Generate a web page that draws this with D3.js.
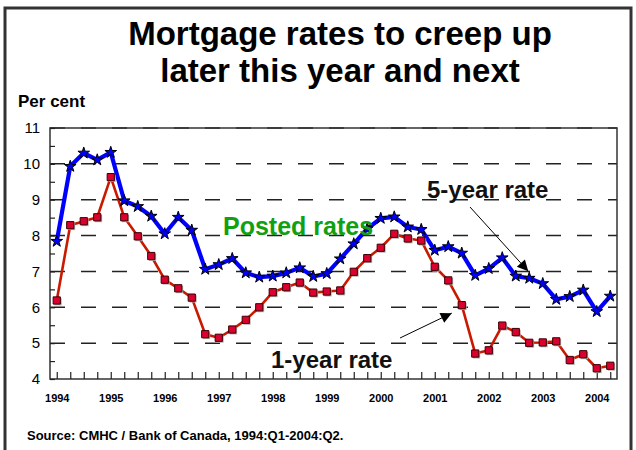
<!DOCTYPE html>
<html>
<head>
<meta charset="utf-8">
<script src="https://cdn.jsdelivr.net/npm/d3@7"></script>
<style>
  body { margin: 0; background: #fff; }
  svg { display: block; font-family: "Liberation Sans", Arial, sans-serif; }
</style>
</head>
<body>
<div class="svg-container"></div>
<script>
// quarterly data, 1994:Q1 - 2004:Q2
const yearLabels = ["1994","1995","1996","1997","1998","1999","2000","2001","2002","2003","2004"];
const fiveYear = [7.84, 9.93, 10.30, 10.11, 10.32, 8.97, 8.81, 8.54, 8.05, 8.51, 8.15, 7.06,
                  7.19, 7.36, 6.96, 6.84, 6.87, 6.96, 7.10, 6.86, 6.94, 7.35, 7.77, 8.19,
                  8.48, 8.52, 8.24, 8.17, 7.59, 7.69, 7.51, 6.89, 7.08, 7.38, 6.87, 6.81,
                  6.66, 6.22, 6.30, 6.48, 5.88, 6.31];
const oneYear = [6.19, 8.29, 8.40, 8.51, 9.63, 8.51, 7.98, 7.43, 6.77, 6.53, 6.27, 5.25,
                 5.15, 5.38, 5.65, 6.00, 6.42, 6.56, 6.69, 6.41, 6.44, 6.47, 6.99, 7.37,
                 7.66, 8.05, 7.92, 7.86, 7.13, 6.75, 6.06, 4.71, 4.80, 5.49, 5.31, 5.01,
                 5.02, 5.05, 4.53, 4.69, 4.30, 4.37];
const yTicks = [4, 5, 6, 7, 8, 9, 10, 11];

var w = 636, h = 450;

const svg = d3.select(".svg-container")
              .append("svg")
              .attr("width", w)
              .attr("height", h);

// outer frame
svg.append("rect")
   .attr("x", 5).attr("y", 8)
   .attr("width", 626).attr("height", 470)
   .attr("fill", "none")
   .attr("stroke", "#333")
   .attr("stroke-width", 3);

// title
const title = svg.append("text")
   .attr("text-anchor", "middle")
   .attr("font-weight", "bold")
   .attr("font-size", 33)
   .attr("fill", "#000");
title.append("tspan").attr("x", 340).attr("y", 45).text("Mortgage rates to creep up");
title.append("tspan").attr("x", 340).attr("y", 82).text("later this year and next");

svg.append("text")
   .attr("x", 18).attr("y", 107)
   .attr("font-weight", "bold")
   .attr("font-size", 17)
   .text("Per cent");

// scales
const xScale = d3.scaleLinear()
                 .domain([-0.5, fiveYear.length - 0.5])
                 .range([50, 617]);
const yScale = d3.scaleLinear()
                 .domain([4, 11])
                 .range([379, 128]);

// dashed gridlines
svg.append("g")
   .selectAll("line")
   .data(yTicks.slice(1))
   .enter()
   .append("line")
   .attr("x1", xScale.range()[0])
   .attr("x2", xScale.range()[1])
   .attr("y1", d => yScale(d))
   .attr("y2", d => yScale(d))
   .attr("stroke", "#222")
   .attr("stroke-width", 1.5)
   .attr("stroke-dasharray", "15,16");

// plot frame
svg.append("rect")
   .attr("x", 50).attr("y", 128)
   .attr("width", 567).attr("height", 251)
   .attr("fill", "none")
   .attr("stroke", "#333")
   .attr("stroke-width", 1.5);

// axes
const xAxis = d3.axisBottom(xScale)
                .tickValues(d3.range(fiveYear.length))
                .tickSize(-7)
                .tickPadding(15)
                .tickFormat(i => i % 4 === 0 ? yearLabels[i / 4] : "");
const yAxis = d3.axisLeft(yScale)
                .tickValues(d3.range(4, 11.01, 0.5))
                .tickSize(-5)
                .tickPadding(10)
                .tickFormat(d => Number.isInteger(d) ? d : "");

const gx = svg.append("g")
   .attr("transform", "translate(0," + 379 + ")")
   .call(xAxis);
gx.select(".domain").remove();
gx.selectAll("line").attr("stroke", "#222").attr("stroke-width", 1.2);
gx.selectAll("text")
  .attr("font-family", "Liberation Sans, Arial, sans-serif")
  .attr("font-weight", "bold")
  .attr("font-size", 11)
  .attr("fill", "#000");

const gy = svg.append("g")
   .attr("transform", "translate(50,0)")
   .call(yAxis);
gy.select(".domain").remove();
gy.selectAll("line").attr("stroke", "#222").attr("stroke-width", 1.2);
gy.selectAll("text")
  .attr("font-family", "Liberation Sans, Arial, sans-serif")
  .attr("font-size", 15)
  .attr("fill", "#000");

// lines
const line = d3.line()
               .x((d, i) => xScale(i))
               .y(d => yScale(d));

svg.append("path")
   .datum(oneYear)
   .attr("d", line)
   .attr("fill", "none")
   .attr("stroke", "#c81a00")
   .attr("stroke-width", 2.6)
   .attr("stroke-linejoin", "round");

svg.append("path")
   .datum(fiveYear)
   .attr("d", line)
   .attr("fill", "none")
   .attr("stroke", "#0000ff")
   .attr("stroke-width", 4.2)
   .attr("stroke-linejoin", "round");

// markers
const square = d3.symbol().type(d3.symbolSquare).size(52);
svg.append("g")
   .selectAll("path")
   .data(oneYear)
   .enter()
   .append("path")
   .attr("d", square)
   .attr("transform", (d, i) => "translate(" + (xScale(i) + 1.3) + "," + (yScale(d) + 1.3) + ")")
   .attr("fill", "#aaa");
svg.append("g")
   .selectAll("path")
   .data(oneYear)
   .enter()
   .append("path")
   .attr("d", square)
   .attr("transform", (d, i) => "translate(" + xScale(i) + "," + yScale(d) + ")")
   .attr("fill", "#dc0030")
   .attr("stroke", "#3a0000")
   .attr("stroke-width", 1);

const star = d3.symbol().type(d3.symbolStar).size(42);
svg.append("g")
   .selectAll("path")
   .data(fiveYear)
   .enter()
   .append("path")
   .attr("d", star)
   .attr("transform", (d, i) => "translate(" + xScale(i) + "," + yScale(d) + ")")
   .attr("fill", "#0000ff")
   .attr("stroke", "#000")
   .attr("stroke-width", 1);

// annotations
svg.append("defs").append("marker")
   .attr("id", "arrow")
   .attr("viewBox", "0 0 10 10")
   .attr("refX", 10).attr("refY", 5)
   .attr("markerWidth", 16).attr("markerHeight", 11)
   .attr("markerUnits", "userSpaceOnUse")
   .attr("orient", "auto")
   .append("path")
   .attr("d", "M0,0L10,5L0,10z")
   .attr("fill", "#000");

svg.append("line")
   .attr("x1", 470).attr("y1", 207)
   .attr("x2", xScale(35) - 1).attr("y2", yScale(fiveYear[35]) - 7)
   .attr("stroke", "#000").attr("stroke-width", 1)
   .attr("marker-end", "url(#arrow)");

svg.append("line")
   .attr("x1", 400).attr("y1", 338)
   .attr("x2", xScale(30) - 10).attr("y2", yScale(oneYear[30]) + 8)
   .attr("stroke", "#000").attr("stroke-width", 1)
   .attr("marker-end", "url(#arrow)");

svg.append("text")
   .attr("x", 427).attr("y", 198)
   .attr("font-weight", "bold").attr("font-size", 24)
   .attr("fill", "#111")
   .text("5-year rate");

svg.append("text")
   .attr("x", 271).attr("y", 368)
   .attr("font-weight", "bold").attr("font-size", 24)
   .attr("fill", "#111")
   .text("1-year rate");

svg.append("text")
   .attr("x", 223).attr("y", 235)
   .attr("font-weight", "bold").attr("font-size", 25)
   .attr("fill", "#11a011")
   .text("Posted rates");

svg.append("text")
   .attr("x", 27).attr("y", 440)
   .attr("font-weight", "bold").attr("font-size", 13)
   .text("Source: CMHC / Bank of Canada, 1994:Q1-2004:Q2.");
</script>
</body>
</html>
